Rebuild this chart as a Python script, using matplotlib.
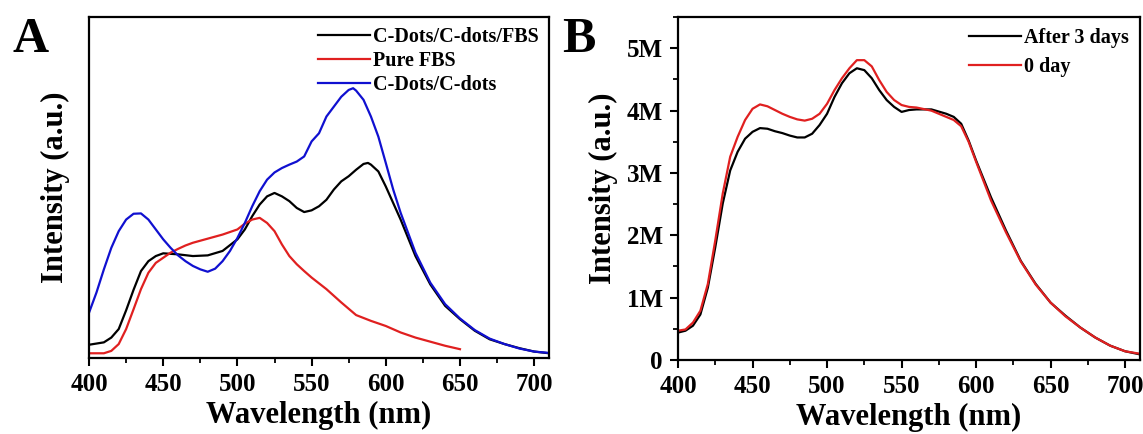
import numpy as np
import matplotlib.pyplot as plt
from matplotlib.ticker import MultipleLocator, FuncFormatter

plt.rcParams['font.family'] = ['Liberation Serif', 'DejaVu Serif']
plt.rcParams['font.weight'] = 'bold'

# ---- panel A data (arbitrary units) ----
wl_a = [400, 410, 415, 420, 425, 430, 435, 440, 445, 450, 460, 470, 480, 490, 500,
        505, 510, 515, 520, 525, 530, 535, 540, 545, 550, 555, 560, 565, 570, 575,
        580, 585, 588, 590, 595, 600, 610, 620, 630, 640, 650, 660, 670, 680, 690,
        700, 710]
fbs_mix = [3.9, 4.6, 6.0, 8.5, 14.0, 20.0, 25.5, 28.4, 29.9, 30.7, 30.4, 29.9, 30.1,
           31.4, 34.8, 37.7, 41.6, 45.0, 47.4, 48.4, 47.4, 46.0, 44.0, 42.8, 43.3,
           44.5, 46.4, 49.4, 51.8, 53.3, 55.2, 56.9, 57.2, 56.7, 54.7, 50.3, 40.6,
           29.9, 21.6, 15.3, 11.4, 8.0, 5.5, 4.1, 2.9, 1.9, 1.4]

wl_blue = [400, 405, 410, 415, 420, 425, 430, 435, 440, 445, 450, 455, 460, 465, 470,
           475, 480, 485, 490, 495, 500, 505, 510, 515, 520, 525, 530, 535, 540, 545,
           550, 555, 560, 565, 570, 575, 578, 580, 585, 590, 595, 600, 605, 610, 620,
           630, 640, 650, 660, 670, 680, 690, 700, 710]
cdots = [13.3, 19.2, 26.0, 32.3, 37.2, 40.6, 42.3, 42.4, 40.6, 37.7, 34.8, 32.3, 30.1,
         28.4, 27.0, 26.0, 25.3, 26.2, 28.4, 31.4, 35.2, 39.6, 44.5, 48.9, 52.3, 54.4,
         55.7, 56.7, 57.6, 59.1, 63.5, 65.9, 70.8, 73.7, 76.6, 78.6, 79.1, 78.4, 75.7,
         70.8, 64.9, 57.2, 49.4, 42.6, 30.9, 22.1, 15.8, 11.6, 8.2, 5.7, 4.1, 2.8, 1.9,
         1.5]

wl_red = [400, 410, 415, 420, 425, 430, 435, 440, 445, 450, 455, 460, 465, 470, 480,
          490, 500, 505, 510, 515, 520, 525, 530, 535, 540, 545, 550, 560, 570, 580,
          590, 600, 610, 620, 630, 640, 650]
pure_fbs = [1.4, 1.4, 2.1, 4.1, 8.5, 14.3, 20.2, 25.0, 27.9, 29.4, 30.9, 32.0, 33.0,
            33.8, 35.0, 36.2, 37.7, 39.4, 40.6, 41.1, 39.6, 37.2, 33.3, 29.9, 27.5,
            25.5, 23.6, 20.2, 16.3, 12.6, 10.9, 9.4, 7.5, 6.0, 4.8, 3.6, 2.6]

# ---- panel B data (millions of counts) ----
wl_b = [400, 405, 410, 415, 420, 425, 430, 435, 440, 445, 450, 455, 460, 465, 470,
        475, 480, 485, 490, 495, 500, 505, 510, 515, 520, 525, 530, 535, 540, 545,
        550, 555, 560, 570, 580, 585, 590, 595, 600, 610, 620, 630, 640, 650, 660,
        670, 680, 690, 700, 710]
after_3d = [0.44, 0.47, 0.55, 0.73, 1.16, 1.81, 2.51, 3.04, 3.34, 3.55, 3.66, 3.72,
            3.71, 3.67, 3.64, 3.60, 3.57, 3.57, 3.63, 3.77, 3.95, 4.22, 4.44, 4.60,
            4.68, 4.65, 4.52, 4.33, 4.17, 4.06, 3.98, 4.01, 4.02, 4.02, 3.95, 3.90,
            3.79, 3.52, 3.20, 2.61, 2.08, 1.59, 1.22, 0.92, 0.71, 0.52, 0.36, 0.23,
            0.14, 0.09]
day_0 = [0.47, 0.49, 0.60, 0.79, 1.22, 1.92, 2.67, 3.26, 3.58, 3.85, 4.03, 4.10, 4.07,
         4.01, 3.95, 3.90, 3.86, 3.84, 3.87, 3.95, 4.11, 4.33, 4.52, 4.68, 4.81, 4.81,
         4.71, 4.49, 4.30, 4.17, 4.09, 4.06, 4.05, 4.00, 3.90, 3.85, 3.75, 3.50, 3.18,
         2.56, 2.05, 1.58, 1.21, 0.92, 0.70, 0.52, 0.36, 0.23, 0.14, 0.10]

fig = plt.figure(figsize=(11.43, 4.34), dpi=100)
ax_a = fig.add_axes([0.0779, 0.175, 0.4024, 0.786])
ax_b = fig.add_axes([0.5932, 0.1705, 0.4042, 0.790])

lw = 1.6
ax_a.plot(wl_a, fbs_mix, color='black', lw=lw, label='C-Dots/C-dots/FBS')
ax_a.plot(wl_red, pure_fbs, color='#e02020', lw=lw, label='Pure FBS')
ax_a.plot(wl_blue, cdots, color='#1010d0', lw=lw, label='C-Dots/C-dots')
ax_a.set_xlim(400, 710)
ax_a.set_ylim(0, 100)
ax_a.set_yticks([])

ax_b.plot(wl_b, np.array(after_3d) * 1e6, color='black', lw=lw, label='After 3 days')
ax_b.plot(wl_b, np.array(day_0) * 1e6, color='#e02020', lw=lw, label='0 day')
ax_b.set_xlim(400, 710)
ax_b.set_ylim(0, 5.5e6)
ax_b.yaxis.set_major_locator(MultipleLocator(1e6))
ax_b.yaxis.set_minor_locator(MultipleLocator(0.5e6))
ax_b.yaxis.set_major_formatter(FuncFormatter(lambda v, p: '0' if v == 0 else f'{v/1e6:.0f}M'))

for ax in (ax_a, ax_b):
    ax.xaxis.set_major_locator(MultipleLocator(50))
    ax.xaxis.set_minor_locator(MultipleLocator(25))
    ax.tick_params(which='major', direction='out', length=6, width=1.5, labelsize=18,
                   pad=5)
    ax.tick_params(which='minor', direction='out', length=3.5, width=1.3)
    for s in ax.spines.values():
        s.set_linewidth(1.6)
    for t in ax.get_xticklabels() + ax.get_yticklabels():
        t.set_fontweight('bold')
    ax.set_xlabel('Wavelength (nm)', fontsize=22, fontweight='bold', labelpad=3)
    ax.set_ylabel('Intensity (a.u.)', fontsize=22, fontweight='bold')

ax_a.legend(loc='upper right', frameon=False, prop={'size': 14.5, 'weight': 'bold'},
            handlelength=2.6, handletextpad=0.15, labelspacing=0.2,
            borderaxespad=0.1, borderpad=0.4)
ax_b.legend(loc='upper right', frameon=False, prop={'size': 14.5, 'weight': 'bold'},
            handlelength=2.6, handletextpad=0.15, labelspacing=0.45,
            borderaxespad=0.1, borderpad=0.45)

ax_a.yaxis.labelpad = 14
ax_b.yaxis.labelpad = 6

fig.text(0.027, 0.908, 'A', fontsize=36, fontweight='bold', ha='center', va='center')
fig.text(0.506, 0.908, 'B', fontsize=36, fontweight='bold', ha='center', va='center')

fig.savefig('out.png', dpi=100)
